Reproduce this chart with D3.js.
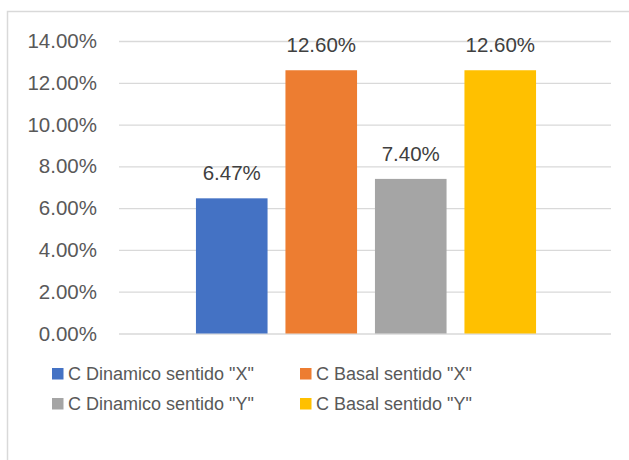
<!DOCTYPE html>
<html>
<head>
<meta charset="utf-8">
<script src="https://cdn.jsdelivr.net/npm/d3@7"></script>
<style>
  body { margin: 0; background: #fff; }
  text { font-family: "Liberation Sans", Arial, sans-serif; }
</style>
</head>
<body>
<svg class="chart"></svg>
<script>
// data
let seriesNames = ['C Dinamico sentido "X"', 'C Basal sentido "X"', 'C Dinamico sentido "Y"', 'C Basal sentido "Y"'];
let seriesValues = [6.47, 12.60, 7.40, 12.60];
let seriesColors = ['#4472c4', '#ed7d31', '#a5a5a5', '#ffc000'];
let yTicks = [0, 2, 4, 6, 8, 10, 12, 14];

let svg = d3.select('.chart')
            .attr('width', 629)
            .attr('height', 460);

// outer chart border (cut off on right and bottom like the screenshot)
svg.append('rect')
   .attr('x', 7.5)
   .attr('y', 11.5)
   .attr('width', 700)
   .attr('height', 500)
   .attr('fill', 'none')
   .attr('stroke', '#d9d9d9')
   .attr('stroke-width', 1.5);

let yScale = d3.scaleLinear()
               .domain([0, 14])
               .range([333.5, 41]);

let xScale = d3.scaleBand()
               .domain(seriesNames)
               .range([187, 545])
               .paddingInner(0.2)
               .paddingOuter(0.1);

let yAxis = d3.axisLeft(yScale)
              .tickValues(yTicks)
              .tickSize(-492)
              .tickPadding(22)
              .tickFormat((d) => d3.format('.2f')(d) + '%');

let gy = svg.append('g')
            .attr('transform', 'translate(119,0)')
            .call(yAxis);

gy.select('.domain').remove();
gy.selectAll('.tick line')
  .attr('stroke', '#d9d9d9')
  .attr('stroke-width', 1.3);
gy.selectAll('.tick text')
  .attr('fill', '#595959')
  .style('font-size', '20.5px')
  .style('font-family', '"Liberation Sans", Arial, sans-serif');

svg.selectAll('.bar')
   .data(seriesValues)
   .enter()
   .append('rect')
   .attr('class', 'bar')
   .attr('x', (d, i) => xScale(seriesNames[i]))
   .attr('y', (d) => yScale(d))
   .attr('width', xScale.bandwidth())
   .attr('height', (d) => yScale(0) - yScale(d))
   .attr('fill', (d, i) => seriesColors[i]);

svg.selectAll('.label')
   .data(seriesValues)
   .enter()
   .append('text')
   .attr('class', 'label')
   .attr('x', (d, i) => xScale(seriesNames[i]) + xScale.bandwidth() / 2)
   .attr('y', (d) => yScale(d) - 18)
   .attr('text-anchor', 'middle')
   .attr('fill', '#404040')
   .style('font-size', '20.5px')
   .text((d) => d3.format('.2f')(d) + '%');

// legend, 2 x 2
let legend = svg.append('g')
                .attr('id', 'legend');

let legendItems = legend.selectAll('g')
                        .data(seriesNames)
                        .enter()
                        .append('g')
                        .attr('transform', (d, i) => 'translate(' + (i % 2 === 0 ? 52 : 300) + ',' + (i < 2 ? 380 : 410) + ')');

legendItems.append('rect')
           .attr('x', 0)
           .attr('y', -12)
           .attr('width', 11.5)
           .attr('height', 11.5)
           .attr('fill', (d, i) => seriesColors[i]);

legendItems.append('text')
           .attr('x', 16)
           .attr('y', 0)
           .attr('fill', '#595959')
           .style('font-size', '18px')
           .text((d) => d);
</script>
</body>
</html>
